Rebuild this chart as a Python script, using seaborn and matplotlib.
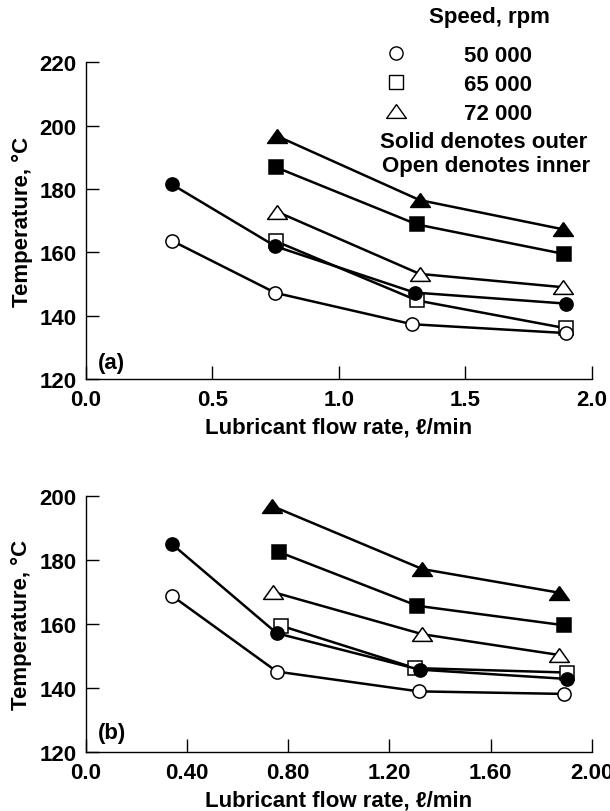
import pandas as pd
import seaborn as sns
import matplotlib.pyplot as plt
from matplotlib.lines import Line2D

sns.set_style('ticks')
plt.rcParams['font.family'] = ['Liberation Sans', 'DejaVu Sans']
plt.rcParams.update({'axes.edgecolor': 'black', 'text.color': 'black',
                     'axes.labelcolor': 'black', 'xtick.color': 'black',
                     'ytick.color': 'black', 'font.size': 16, 'font.weight': 'bold',
                     'axes.labelweight': 'bold'})

speed_labels = ['50 000', '65 000', '72 000']

# (a) flow rate (l/min) and temperature (C); outer = solid, inner = open
a_outer_50_x = [0.34, 0.75, 1.30, 1.90]
a_outer_50_y = [181.5, 161.9, 147.3, 143.8]
a_inner_50_x = [0.34, 0.75, 1.29, 1.90]
a_inner_50_y = [163.7, 147.2, 137.3, 134.5]
a_outer_65_x = [0.754, 1.31, 1.89]
a_outer_65_y = [186.8, 168.8, 159.5]
a_inner_65_x = [0.752, 1.31, 1.90]
a_inner_65_y = [163.5, 144.8, 136.0]
a_outer_72_x = [0.757, 1.32, 1.885]
a_outer_72_y = [196.7, 176.5, 167.3]
a_inner_72_x = [0.757, 1.32, 1.885]
a_inner_72_y = [172.8, 153.2, 149.0]

# (b)
b_outer_50_x = [0.34, 0.755, 1.32, 1.90]
b_outer_50_y = [185.1, 157.1, 145.7, 142.8]
b_inner_50_x = [0.34, 0.755, 1.315, 1.89]
b_inner_50_y = [168.9, 145.1, 138.9, 138.1]
b_outer_65_x = [0.765, 1.31, 1.89]
b_outer_65_y = [182.5, 165.7, 159.6]
b_inner_65_x = [0.77, 1.30, 1.90]
b_inner_65_y = [159.5, 146.2, 144.8]
b_outer_72_x = [0.735, 1.33, 1.87]
b_outer_72_y = [197.0, 177.2, 169.8]
b_inner_72_x = [0.74, 1.33, 1.87]
b_inner_72_y = [170.0, 156.8, 150.3]

tri = [(0, 0.7), (-1, -0.7), (1, -0.7), (0, 0.7)]
marker_style = {'50': ('o', 9.5), '65': ('s', 9.8), '72': (tri, 14.2)}


def draw_series(ax, x, y, speed, filled):
    m, ms = marker_style[speed]
    df = pd.DataFrame({'flow': x, 'temp': y})
    sns.lineplot(data=df, x='flow', y='temp', ax=ax, sort=False, color='black',
                 linewidth=1.8, marker=m, markersize=ms,
                 markerfacecolor='black' if filled else 'white',
                 markeredgecolor='black', markeredgewidth=1.1, clip_on=False)


fig = plt.figure(figsize=(6.1, 8.12), dpi=100)
ax1 = fig.add_axes([0.1405, 0.532, 0.8295, 0.390])
ax2 = fig.add_axes([0.1403, 0.073, 0.8303, 0.3146])

panels = [
    (ax1, [(a_inner_72_x, a_inner_72_y, '72', False), (a_outer_72_x, a_outer_72_y, '72', True),
           (a_inner_65_x, a_inner_65_y, '65', False), (a_outer_65_x, a_outer_65_y, '65', True),
           (a_inner_50_x, a_inner_50_y, '50', False), (a_outer_50_x, a_outer_50_y, '50', True)]),
    (ax2, [(b_inner_72_x, b_inner_72_y, '72', False), (b_outer_72_x, b_outer_72_y, '72', True),
           (b_inner_65_x, b_inner_65_y, '65', False), (b_outer_65_x, b_outer_65_y, '65', True),
           (b_inner_50_x, b_inner_50_y, '50', False), (b_outer_50_x, b_outer_50_y, '50', True)]),
]
for ax, series in panels:
    for x, y, sp, filled in series:
        draw_series(ax, x, y, sp, filled)
    sns.despine(ax=ax)
    ax.spines['left'].set_linewidth(1.0)
    ax.spines['bottom'].set_linewidth(1.0)
    ax.set_xlim(0, 2.0)
    ax.tick_params(axis='both', direction='in', length=9.5, width=1.0, labelsize=16)
    ax.tick_params(axis='x', pad=7.5)
    ax.tick_params(axis='y', pad=6.5)
    ax.set_xlabel('Lubricant flow rate, ℓ/min', fontsize=16, labelpad=4.5)
    ax.set_ylabel('Temperature, °C', fontsize=16, labelpad=5)

ax1.set_ylim(120, 220)
ax1.set_yticks([120, 140, 160, 180, 200, 220])
ax1.set_xticks([0, 0.5, 1.0, 1.5, 2.0])
ax1.set_xticklabels(['0.0', '0.5', '1.0', '1.5', '2.0'])
ax2.set_ylim(120, 200)
ax2.set_yticks([120, 140, 160, 180, 200])
ax2.set_xticks([0, 0.4, 0.8, 1.2, 1.6, 2.0])
ax2.set_xticklabels(['0.0', '0.40', '0.80', '1.20', '1.60', '2.00'])

ax1.text(0.024, 0.035, '(a)', transform=ax1.transAxes, fontsize=16, va='baseline')
ax2.text(0.024, 0.054, '(b)', transform=ax2.transAxes, fontsize=16, va='baseline')

# key
handles = [Line2D([], [], ls='', marker=marker_style[k][0], markersize=marker_style[k][1],
                  markerfacecolor='white', markeredgecolor='black', markeredgewidth=1.0)
           for k in ['50', '65', '72']]
fig.legend(handles, speed_labels, loc='upper left', bbox_to_anchor=(385 / 610, 1 - 46 / 812),
           frameon=False, fontsize=16, handlelength=1.0, handletextpad=2.55,
           labelspacing=0.36, borderpad=0, borderaxespad=0)
fig.text(489.5 / 610, 1 - 23 / 812, 'Speed, rpm', ha='center', va='baseline', fontsize=16)
fig.text(380 / 610, 1 - 148 / 812, 'Solid denotes outer', va='baseline', fontsize=16)
fig.text(382 / 610, 1 - 171.7 / 812, 'Open denotes inner', va='baseline', fontsize=16)

fig.savefig('out.png', dpi=100)
